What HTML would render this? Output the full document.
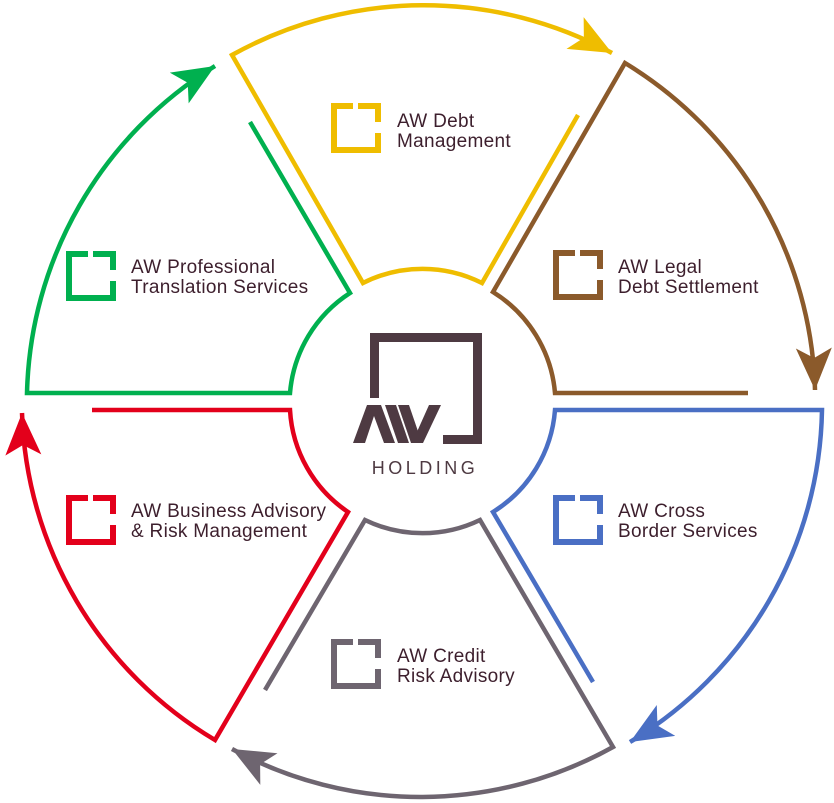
<!DOCTYPE html>
<html><head><meta charset="utf-8"><style>
html,body{margin:0;padding:0;background:#fff;}
svg{display:block;}
text{font-family:"Liberation Sans",sans-serif;fill:#3d1f2d;font-size:19px;letter-spacing:0.3px;}
</style></head><body>
<svg width="834" height="803" viewBox="0 0 834 803" xmlns="http://www.w3.org/2000/svg">
<defs>
<marker id="ay" markerUnits="userSpaceOnUse" markerWidth="44" markerHeight="40" refX="42" refY="20" orient="auto"><path d="M0,2 L42,20 L0,38 L10,20 Z" fill="#efbd00"/></marker>
<marker id="ab" markerUnits="userSpaceOnUse" markerWidth="44" markerHeight="40" refX="42" refY="20" orient="auto"><path d="M0,2 L42,20 L0,38 L10,20 Z" fill="#8b5a2b"/></marker>
<marker id="abl" markerUnits="userSpaceOnUse" markerWidth="44" markerHeight="40" refX="42" refY="20" orient="auto"><path d="M0,2 L42,20 L0,38 L10,20 Z" fill="#4a6fc4"/></marker>
<marker id="ag" markerUnits="userSpaceOnUse" markerWidth="44" markerHeight="40" refX="42" refY="20" orient="auto"><path d="M0,2 L42,20 L0,38 L10,20 Z" fill="#6e6570"/></marker>
<marker id="ar" markerUnits="userSpaceOnUse" markerWidth="44" markerHeight="40" refX="42" refY="20" orient="auto"><path d="M0,2 L42,20 L0,38 L10,20 Z" fill="#e3001b"/></marker>
<marker id="agr" markerUnits="userSpaceOnUse" markerWidth="44" markerHeight="40" refX="42" refY="20" orient="auto"><path d="M0,2 L42,20 L0,38 L10,20 Z" fill="#00b04f"/></marker>
</defs>
<g fill="none" stroke-width="4.5" stroke-linejoin="miter">
<path d="M578,115 L482,283 A132,132 0 0 0 363,283 L232,55 A395,395 0 0 1 612,53" stroke="#efbd00" marker-end="url(#ay)"/>
<path d="M748,393 L555,393 A132,132 0 0 0 493,292 L625,63 A395,395 0 0 1 815,390" stroke="#8b5a2b" marker-end="url(#ab)"/>
<path d="M593,682 L493,512 A132,132 0 0 0 555,410 L822,410 A395,395 0 0 1 630,742" stroke="#4a6fc4" marker-end="url(#abl)"/>
<path d="M265,690 L365,520 A132,132 0 0 0 480,520 L613,747 A395,395 0 0 1 232,749" stroke="#6e6570" marker-end="url(#ag)"/>
<path d="M92,410 L290,410 A132,132 0 0 0 348,512 L215,740 A395,395 0 0 1 22,413" stroke="#e3001b" marker-end="url(#ar)"/>
<path d="M250,122 L350,293 A132,132 0 0 0 290,393 L27,393 A395,395 0 0 1 215,66" stroke="#00b04f" marker-end="url(#agr)"/>
</g>
<g fill="none" stroke-width="6" stroke-linejoin="miter">
<path transform="translate(331,103)" d="M22,3 H3 V47 H47 V30 M27,3 H47 V19" stroke="#efbd00"/>
<path transform="translate(553,250)" d="M22,3 H3 V47 H47 V30 M27,3 H47 V19" stroke="#8b5a2b"/>
<path transform="translate(66,251)" d="M22,3 H3 V47 H47 V30 M27,3 H47 V19" stroke="#00b04f"/>
<path transform="translate(66,495)" d="M22,3 H3 V47 H47 V30 M27,3 H47 V19" stroke="#e3001b"/>
<path transform="translate(553,495)" d="M22,3 H3 V47 H47 V30 M27,3 H47 V19" stroke="#4a6fc4"/>
<path transform="translate(331,639)" d="M22,3 H3 V47 H47 V30 M27,3 H47 V19" stroke="#6e6570"/>
</g>
<text x="397" y="127">AW Debt</text><text x="397" y="147">Management</text>
<text x="618" y="273">AW Legal</text><text x="618" y="293">Debt Settlement</text>
<text x="131" y="273">AW Professional</text><text x="131" y="293">Translation Services</text>
<text x="131" y="517">AW Business Advisory</text><text x="131" y="537">&amp; Risk Management</text>
<text x="618" y="517">AW Cross</text><text x="618" y="537">Border Services</text>
<text x="397" y="662">AW Credit</text><text x="397" y="682">Risk Advisory</text>
<g stroke="#4e3a42" fill="none" stroke-width="9">
<path d="M374.5,398 V337.5 H477.5 V439.5 H443"/>
</g>
<g fill="#4e3a42">
<polygon points="353,443 367,405 381,405 395,443 384,443 374,416 365,443"/>
<polygon points="385,405 396,405 409,443 398,443"/>
<polygon points="398,405 409,405 422,443 411,443"/>
<polygon points="412,443 429,405 441,405 423,443"/>
</g>
<text x="425" y="474" text-anchor="middle" style="font-size:18px;letter-spacing:3.5px;fill:#4e3a42">HOLDING</text>
</svg>
</body></html>
